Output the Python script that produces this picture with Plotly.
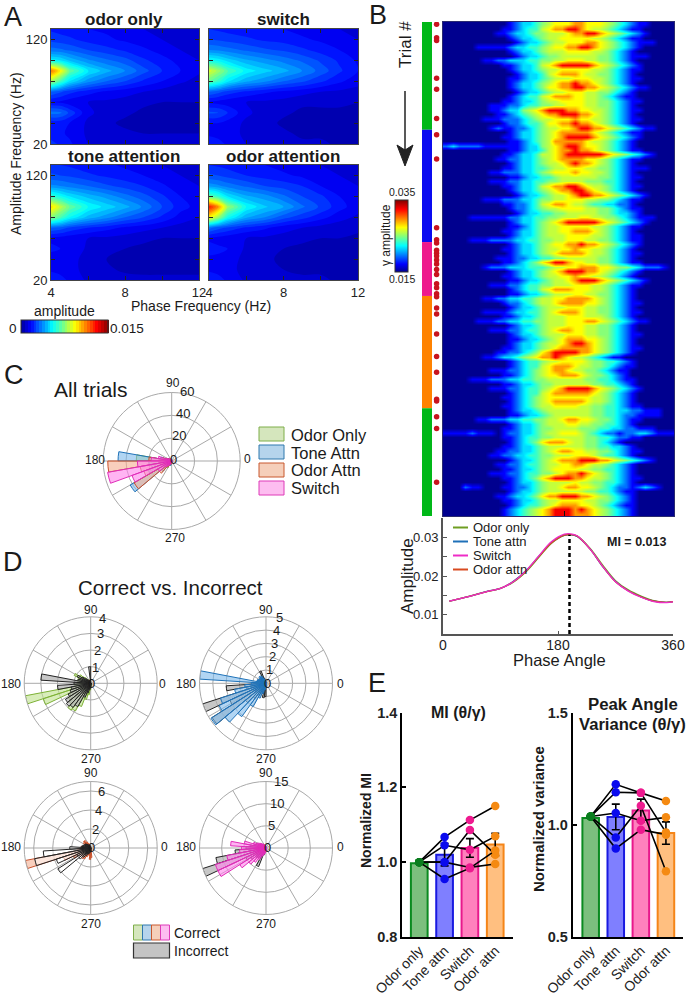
import plotly.graph_objects as go

W, H = 688, 1000
FONT = "Liberation Sans"

# ---- panel A, amplitude x 1000, rows are amp freq, columns are phase freq
phase_freq = [4, 4.5, 5, 6, 7, 8, 9, 10, 11, 12]
amp_freq = [130, 120, 110, 100, 90, 80, 70, 60, 50, 40, 30, 20]
odor_only_z = [
    [1.9, 1.8, 1.7, 1.5, 1.4, 1.2, 1.0, 0.9, 0.8, 0.7],
    [2.3, 2.2, 2.1, 1.8, 1.6, 1.4, 1.2, 1.0, 0.9, 0.8],
    [3.2, 3.1, 2.9, 2.5, 2.2, 1.9, 1.6, 1.3, 1.0, 0.9],
    [5.3, 5.0, 4.4, 3.6, 3.1, 2.7, 2.1, 1.7, 1.3, 1.0],
    [11.5, 9.5, 7.0, 5.1, 4.2, 3.5, 2.7, 2.0, 1.5, 1.1],
    [8.0, 6.5, 5.0, 3.7, 3.0, 2.5, 1.9, 1.5, 1.1, 0.8],
    [3.0, 2.6, 2.2, 1.7, 1.4, 1.2, 1.0, 0.8, 0.6, 0.6],
    [1.5, 1.4, 1.2, 1.0, 0.9, 0.8, 0.6, 0.5, 0.5, 0.5],
    [3.2, 3.1, 2.4, 1.1, 0.8, 0.6, 0.4, 0.4, 0.4, 0.4],
    [1.7, 1.7, 1.5, 0.9, 0.6, 0.4, 0.3, 0.3, 0.4, 0.5],
    [1.7, 1.6, 1.4, 0.9, 0.7, 0.6, 0.5, 0.5, 0.5, 0.5],
    [2.2, 1.9, 1.6, 1.0, 0.8, 0.7, 0.6, 0.6, 0.6, 0.6],
]
switch_z = [
    [2.0, 1.9, 1.8, 1.7, 1.6, 1.5, 1.3, 1.2, 1.0, 0.9],
    [2.5, 2.4, 2.3, 2.1, 1.9, 1.8, 1.6, 1.4, 1.2, 1.0],
    [3.5, 3.4, 3.2, 2.9, 2.6, 2.4, 2.1, 1.8, 1.5, 1.2],
    [5.6, 5.3, 4.8, 4.1, 3.7, 3.3, 2.9, 2.4, 1.9, 1.4],
    [8.8, 7.8, 6.6, 5.3, 4.7, 4.2, 3.5, 2.8, 2.1, 1.5],
    [7.0, 6.2, 5.1, 4.1, 3.6, 3.0, 2.6, 2.1, 1.6, 1.2],
    [3.0, 2.7, 2.3, 1.9, 1.6, 1.4, 1.2, 1.0, 0.9, 0.8],
    [1.4, 1.3, 1.2, 1.0, 0.9, 0.8, 0.6, 0.6, 0.6, 0.5],
    [2.6, 2.5, 2.0, 1.1, 0.8, 0.6, 0.4, 0.4, 0.4, 0.4],
    [1.5, 1.5, 1.3, 0.9, 0.7, 0.4, 0.4, 0.4, 0.4, 0.4],
    [1.4, 1.3, 1.2, 0.9, 0.7, 0.6, 0.4, 0.4, 0.4, 0.4],
    [1.8, 1.7, 1.4, 1.0, 0.8, 0.7, 0.6, 0.6, 0.4, 0.4],
]
tone_z = [
    [2.1, 2.0, 1.9, 1.7, 1.6, 1.4, 1.2, 1.0, 0.9, 0.8],
    [2.6, 2.5, 2.4, 2.1, 1.9, 1.7, 1.5, 1.2, 1.0, 0.9],
    [3.6, 3.5, 3.3, 3.0, 2.6, 2.3, 2.0, 1.6, 1.2, 1.0],
    [6.2, 5.6, 5.0, 4.3, 3.8, 3.2, 2.7, 2.1, 1.5, 1.2],
    [9.8, 8.4, 7.0, 5.5, 4.8, 4.2, 3.4, 2.5, 1.7, 1.3],
    [7.6, 6.6, 5.5, 4.3, 3.7, 3.0, 2.5, 1.9, 1.3, 1.0],
    [3.0, 2.8, 2.4, 2.0, 1.7, 1.4, 1.2, 1.0, 0.8, 0.7],
    [1.4, 1.3, 1.2, 1.0, 0.9, 0.8, 0.6, 0.5, 0.5, 0.5],
    [1.6, 1.5, 1.4, 0.9, 0.7, 0.5, 0.4, 0.3, 0.3, 0.3],
    [1.3, 1.3, 1.2, 0.8, 0.5, 0.3, 0.3, 0.2, 0.2, 0.3],
    [1.4, 1.3, 1.2, 0.8, 0.6, 0.4, 0.4, 0.4, 0.4, 0.4],
    [1.9, 1.7, 1.4, 0.9, 0.8, 0.7, 0.6, 0.6, 0.6, 0.6],
]
odor_attn_z = [
    [2.0, 1.9, 1.8, 1.7, 1.5, 1.3, 1.1, 1.0, 0.8, 0.7],
    [2.6, 2.5, 2.3, 2.0, 1.8, 1.6, 1.4, 1.1, 1.0, 0.8],
    [3.8, 3.6, 3.3, 2.9, 2.5, 2.3, 2.0, 1.5, 1.2, 1.0],
    [6.8, 6.1, 5.0, 4.1, 3.7, 3.1, 2.5, 2.1, 1.5, 1.1],
    [13.0, 11.0, 7.8, 5.5, 4.6, 4.0, 3.1, 2.4, 1.7, 1.2],
    [9.5, 7.8, 5.7, 4.1, 3.5, 2.7, 2.2, 1.7, 1.2, 0.9],
    [3.2, 2.7, 2.4, 1.9, 1.6, 1.2, 1.0, 0.8, 0.7, 0.6],
    [1.4, 1.3, 1.2, 1.0, 0.9, 0.8, 0.6, 0.5, 0.5, 0.4],
    [1.7, 1.6, 1.5, 0.9, 0.7, 0.5, 0.4, 0.3, 0.3, 0.2],
    [1.4, 1.4, 1.3, 0.8, 0.6, 0.4, 0.3, 0.3, 0.3, 0.3],
    [1.4, 1.3, 1.2, 0.8, 0.7, 0.5, 0.4, 0.4, 0.4, 0.4],
    [1.9, 1.7, 1.4, 0.9, 0.8, 0.7, 0.6, 0.6, 0.4, 0.4],
]

# ---- panel B, one string per trial, 36 phase bins, each digit looks up trial_levels
trial_levels = [0.015, 0.0172, 0.0194, 0.0216, 0.0234, 0.025, 0.0262, 0.0274, 0.0294, 0.0326]
trials_odor_only_1 = [
    "000000000012334567778877765432110000",
    "000000000112344678899876654321100000",
    "000000001123345566678899876543210000",
    "000000000012334566777776654321100000",
    "000000000001233456677788765432111000",
    "000001111123344567788998765432100000",
    "000000000012334566677776654321000000",
    "000000000001233455666666554321110000",
    "000000112233344556677766554321000000",
    "000000000112334678999998765432100000",
    "000000000012334566777776654321100000",
    "000000000001233467888766554321000000",
    "000000000011233456667776654321100000",
    "000000000012334567889887654321000000",
    "000000000012334577889988765432110000",
    "000000000001233456677766554321000000",
    "000000000012344678887766543211000000",
    "000000000112334566777766554321100000",
    "000000011122344556677766554321000000",
    "000000011233567899988776654321100000",
    "000000001123456788999887654321000000",
    "000000111222345667778776654321100000",
    "000000000122344577889887654321000000",
    "000000012112234566778998876543211000",
]
trials_tone = [
    "000000000012334567888887654321100000",
    "000000000112334567899998765432100000",
    "000000000011234568888876654321000000",
    "232222111111233567899877654321000000",
    "000000000011233467889887654321100000",
    "000000000112334667899999987654321000",
    "000000001122334567888877654321100000",
    "000000000012334566789887654321000000",
    "000000000112334456677766554321110000",
    "000000011222334567778776654321000000",
    "000000000011233445666666554321100000",
    "000000011122334455666655544321000000",
    "000000000112334678899876654321100000",
    "000000000012334567889987654321000000",
    "000000000001233456678998876543210000",
    "000000111222334556677766554321100000",
    "000000000112234678876654433221000000",
    "000000000012234566777766554321100000",
    "000000000001233445566666554332100000",
    "000011111122334455666776655432111000",
    "000000000012334567899999876543210000",
    "000000000011234566777776654321100000",
    "000000000112334566778887654321000000",
    "000000000012334566677776654321100000",
    "000011122223344556677766554321100000",
]
trials_switch = [
    "000000000012334567788988765432100000",
    "000000000112334566778776654321000000",
    "000000000012334567888876654321100000",
    "000000001112233445566666554321000000",
    "000000000112345789987766554321100000",
    "000000122233344456677888776554322210",
    "000000000012334567899988765432100000",
    "000000000112334566778776654321000000",
    "000000000011233456678999876543210000",
    "000000011122344556667776654321100000",
    "000000000012344678887776654321000000",
    "000000000011233456667766554321000000",
]
trials_odor_attn = [
    "000000112233445667788887654321000000",
    "000000000122345667888877654321100000",
    "000000000012334566677766554321000000",
    "000000111123344567888766554321100000",
    "000000000112334566677766654321000000",
    "000001112233445566677788765432110000",
    "000000000012334566677766554321000000",
    "000000011122344567887766554321000000",
    "000000000012334566677766554321100000",
    "000000000011233456788877654321000000",
    "000000000012334566789987654321000000",
    "000000000112334567888887654321100000",
    "000000001122345789999887654321000000",
    "000000112334567889876654321100000000",
    "000000000012344566777765544321000000",
    "000000000012344678887665543211000000",
    "000000011122345678876655432110000000",
    "000000000112345677888765543210000000",
    "000011122233445566666655443211000000",
    "000000000112334556666665544321000000",
    "000000011122344567899998765432100000",
    "000000000012344678888887654321000000",
    "000000000112345677777776654321000000",
    "000000000012345678888876654321000000",
    "000000000112345667777665544321100000",
]
trials_odor_only_2 = [
    "000000000012334566666665544332211100",
    "000000000011233456666665544322111100",
    "000001122233445566788776554321100000",
    "000000000012334566677665544321000000",
    "000000000112334556666555443322111000",
    "111121110122334566777654322122332111",
    "000000000112344556666655443221100000",
    "000000000012345788876655432100000000",
    "000000000112334566666655443321000000",
    "000000001122334567887766554321100000",
    "000000011223344556667776544321000000",
    "000000000012334567888999887654321000",
    "000000001122344566778876654321000000",
    "000000000112334567777665544321000000",
    "000000011122344556788987654321000000",
    "000000000112345789998876654321100000",
    "000000000012334566667665544321000000",
    "000211000112234566788776543221232100",
    "000000000012334566666655443211000000",
    "000000001123345788999887654321000000",
    "000000000112334566777766554321000000",
    "000000000012344567888776543211000000",
    "000000000123456789998987654321000000",
    "000000000123456789998887654321000000",
]
error_trials = [1, 4, 4.6, 13, 15.5, 22, 25.6, 31, 46.3, 49, 49.7, 51.3, 52, 52.6, 53.5, 54.4,
                55.6, 56.7, 58.8, 59.7, 61, 61.7, 64.2, 65.5, 70, 75, 78.5, 84.5, 84.9, 88.4,
                91, 103]
phase_bins = [5 + 10 * i for i in range(36)]

# mean curves under the heatmap
curve_phase = [10, 30, 50, 70, 90, 110, 130, 150, 170, 190, 200, 210, 230, 250, 270, 290, 310, 330, 350, 360]
curve_odor_only = [.0135, .0143, .0152, .0160, .0168, .0184, .0211, .0248, .0285, .0305, .0307, .0303, .0272, .0228, .0188, .0164, .0148, .0136, .0132, .0134]
curve_tone = [.0135, .0143, .0151, .0161, .0168, .0186, .0214, .0251, .0287, .0306, .0307, .0302, .0270, .0224, .0186, .0162, .0146, .0135, .0132, .0134]
curve_switch = [.0135, .0143, .0151, .0160, .0168, .0185, .0214, .0252, .0289, .0308, .0309, .0304, .0270, .0225, .0185, .0161, .0145, .0134, .0131, .0133]
curve_odor_attn = [.0135, .0143, .0151, .0160, .0168, .0185, .0213, .0250, .0286, .0306, .0307, .0303, .0270, .0225, .0185, .0162, .0146, .0135, .0132, .0134]
peak_angle = 198

# ---- panel C rose counts
rose_theta = [95, 105, 115, 125, 135, 145, 155, 165, 175, 185, 195, 205, 215, 225, 235, 245, 255, 265, 275, 285]
all_odor_only = [1, 1, 1, 2, 2, 3, 4, 8, 31, 18, 15, 14, 13, 10, 7, 3, 2, 2, 1, 1]
all_tone = [0, 1, 1, 2, 2, 3, 4, 10, 47, 20, 18, 22, 42, 12, 6, 3, 4, 2, 1, 1]
all_odor_attn = [1, 1, 1, 2, 2, 3, 5, 8, 20, 56, 28, 26, 38, 14, 6, 3, 3, 2, 1, 0]
all_switch = [1, 1, 2, 2, 3, 3, 5, 12, 18, 30, 57, 37, 14, 7, 5, 3, 2, 1, 1, 1]

# ---- panel D rose counts, 7.2 degree bins
d_theta = [93.6, 100.8, 108, 115.2, 122.4, 129.6, 136.8, 144, 151.2, 158.4, 165.6, 172.8, 180, 187.2,
           194.4, 201.6, 208.8, 216, 223.2, 230.4, 237.6, 244.8, 252, 259.2, 266.4, 273.6, 280.8]
odor_only_correct = [0, 0, .1, .1, .2, .3, .5, .8, 1.1, .8, .7, .8, .8, 1.0, 4.0, 3.0, 1.4, 1.6, 1.7, 2.0, 1.9, 1.5, 1.0, .7, .4, .2, .1]
odor_only_incorrect = [1.0, .2, .1, .1, .2, .3, .4, .6, .9, .7, .8, 3.0, 1.0, 2.0, 1.2, 1.3, 1.5, 1.8, 1.9, 1.8, 1.6, .9, .6, .4, .3, .2, .1]
tone_correct = [.1, .2, .3, .4, .6, .7, .7, .6, .6, .7, .7, 5, 1.1, 1.6, 2.4, 3.6, 3.9, 4.9, 4.0, 3.1, 2.0, 1.2, .8, .5, .3, .2, .1]
tone_incorrect = [.1, .2, .4, 1, .6, .5, .5, .5, .5, .6, .6, .7, .9, 3.0, 1.5, 5, 3, 4.8, 2, 1.4, 1.0, .8, .8, 1.1, 1.0, .3, .1]
odor_attn_correct = [.1, .2, .3, .5, .7, 1, 1.0, .9, .7, .7, .8, 1.0, 1.1, 1.4, 7, 3, 2, 1.3, 1.2, 1.4, 1.3, 1.0, .7, .8, 1.2, 1, .3]
odor_attn_incorrect = [.1, .2, .3, .3, .4, .5, .6, .7, .7, .8, .9, 1.0, 2.2, 5, 6, 3.8, 1.6, 4.1, 1.6, 1.2, .9, .7, .6, .5, .4, .3, .1]
switch_correct = [.3, .4, .6, .8, 1, 1.2, 1.5, 1.8, 2.2, 3, 5, 8, 5.5, 6, 9, 12, 12, 7, 5, 4, 3, 2, 1.5, 1.2, .8, .5, .3]
switch_incorrect = [.2, .3, .5, .6, .8, 1, 1.2, 1.4, 1.6, 2, 2.8, 3.6, 4.5, 7, 11.5, 15, 5, 4, 3, 2.8, 2.2, 4.5, 1.6, 1, .8, .5, .2]

# ---- panel E
conditions = ["Odor only", "Tone attn", "Switch", "Odor attn"]
mi_means = [0.997, 1.02, 1.038, 1.047]
mi_errors = [0, 0.03, 0.025, 0.03]
mi_animals = [
    [1.0, 1.067, 1.1125, 1.15],
    [1.0, 1.0, 1.086, 1.02],
    [1.0, 1.045, 1.033, 1.069],
    [1.0, 1.0, 0.986, 0.995],
    [1.0, 0.955, 0.984, 1.031],
]
var_means = [1.03, 1.035, 1.064, 0.963]
var_errors = [0, 0.057, 0.05, 0.05]
var_animals = [
    [1.037, 1.18, 1.142, 0.966],
    [1.037, 1.145, 1.142, 1.106],
    [1.037, 1.052, 1.018, 1.033],
    [1.037, 0.943, 1.085, 0.793],
    [1.037, 0.894, 0.978, 0.956],
]

JET = [[0, "rgb(0,0,143)"], [0.11, "rgb(0,0,255)"], [0.365, "rgb(0,255,255)"],
       [0.62, "rgb(255,255,0)"], [0.87, "rgb(255,0,0)"], [1, "rgb(128,0,0)"]]
GREEN, BLUE, PINK, ORANGE = "#0a8a20", "#1a1ae0", "#e8188c", "#f58518"
GRID = "#a9a9a9"


def px(x):
    return x / W


def py(y):
    return 1 - y / H


annotations = []
shapes = []


def note(text, x, y, size=13, bold=False, angle=0, anchor="center", color="#1a1a1a"):
    annotations.append(dict(text=f"<b>{text}</b>" if bold else text, x=px(x), y=py(y), xref="paper", yref="paper",
                            showarrow=False, xanchor=anchor, yanchor="middle", textangle=angle,
                            font=dict(size=size, color=color, family=FONT)))


def rect(x0, y0, x1, y1, fill, edge, width=1):
    shapes.append(dict(type="rect", xref="paper", yref="paper", x0=px(x0), x1=px(x1), y0=py(y0), y1=py(y1),
                       fillcolor=fill, line=dict(color=edge, width=width)))


def hline(x0, x1, y, color, width=2):
    shapes.append(dict(type="line", xref="paper", yref="paper", x0=px(x0), x1=px(x1), y0=py(y), y1=py(y),
                       line=dict(color=color, width=width)))


fig = go.Figure()
layout = {}

# ---- A
a_panels = [
    (odor_only_z, 51, 199, 29, 144, "", True, False),
    (switch_z, 209, 358, 29, 144, "2", False, False),
    (tone_z, 51, 199, 165, 280, "3", True, True),
    (odor_attn_z, 209, 358, 165, 280, "4", False, True),
]
for z, x0, x1, y0, y1, n, show_y, show_x in a_panels:
    fig.add_trace(go.Contour(x=phase_freq, y=amp_freq, z=z, coloraxis="coloraxis",
                             contours=dict(start=0, end=15, size=0.5), line=dict(width=0),
                             xaxis="x" + n, yaxis="y" + n, hoverinfo="skip"))
    layout["xaxis" + n] = dict(domain=[px(x0), px(x1)], range=[4, 12], anchor="y" + n, mirror="ticks",
                               showline=True, linecolor="#444", linewidth=1, ticks="inside", ticklen=4,
                               tickcolor="#222", tickvals=[4, 6, 8, 10, 12], showgrid=False, zeroline=False,
                               ticktext=["4", "", "8", "", "12"], showticklabels=show_x,
                               tickfont=dict(size=13, color="#222"))
    layout["yaxis" + n] = dict(domain=[py(y1), py(y0)], range=[20, 130], anchor="x" + n, mirror="ticks",
                               showline=True, linecolor="#444", linewidth=1, ticks="inside", ticklen=4,
                               tickcolor="#222", tickvals=[20, 40, 60, 80, 100, 120], showgrid=False, zeroline=False,
                               ticktext=["20", "", "", "", "", "120"], showticklabels=show_y,
                               tickfont=dict(size=13, color="#222"))

note("A", 13, 17, 27)
note("odor only", 124, 19, 17, True)
note("switch", 283, 19, 17, True)
note("tone attention", 124, 156, 17, True)
note("odor attention", 283, 156, 17, True)
note("Amplitude Frequency (Hz)", 16, 154, 14, angle=-90)
note("Phase Frequency (Hz)", 201, 306, 14)
note("amplitude", 64, 311, 14)
note("0", 13, 329, 13.5)
note("0.015", 127, 329, 13.5)

# ---- B
trial_blocks = [trials_odor_only_1, trials_tone, trials_switch, trials_odor_attn, trials_odor_only_2]
block_colors = ["#00b818", "#0a0af0", "#ee1a8c", "#ff8200", "#00b818"]
all_trials = [t for block in trial_blocks for t in block]
heat = [[trial_levels[int(c)] for c in t.ljust(36, "0")[:36]] for t in all_trials]
n_trials = len(heat)
fig.add_trace(go.Heatmap(x=phase_bins, y=list(range(1, n_trials + 1)), z=heat, coloraxis="coloraxis2",
                         zsmooth="best", xaxis="x5", yaxis="y5", hoverinfo="skip"))
layout["xaxis5"] = dict(domain=[px(443), px(674)], range=[0, 360], anchor="y5", mirror=True, showline=True,
                        linecolor="#2a2a70", linewidth=1, ticks="inside", ticklen=5, tickcolor="#111",
                        tickvals=[190], showticklabels=False, showgrid=False, zeroline=False)
layout["yaxis5"] = dict(domain=[py(516), py(22)], range=[n_trials + 0.5, 0.5], anchor="x5", mirror=True, showline=True,
                        linecolor="#2a2a70", linewidth=1, showticklabels=False, ticks="", showgrid=False, zeroline=False)

# trial block strip and red dots for the error trials
start = 0.5
for block, col in zip(trial_blocks, block_colors):
    fig.add_trace(go.Bar(x=[0.25], y=[len(block)], base=[start], width=[0.5], marker=dict(color=col, line_width=0),
                         xaxis="x6", yaxis="y6", hoverinfo="skip"))
    start += len(block)
fig.add_trace(go.Scatter(x=[0.73] * len(error_trials), y=error_trials, mode="markers",
                         marker=dict(color="#c8141e", size=5.5), xaxis="x6", yaxis="y6", hoverinfo="skip"))
layout["xaxis6"] = dict(domain=[px(422), px(442)], range=[0, 1], anchor="y6", visible=False)
layout["yaxis6"] = dict(domain=[py(516), py(22)], range=[n_trials + 0.5, 0.5], anchor="x6", visible=False)

note("B", 378, 15, 27)
note("Trial #", 405, 45, 17, angle=-90)
shapes.append(dict(type="line", xref="paper", yref="paper", x0=px(405), x1=px(405), y0=py(91), y1=py(150),
                   line=dict(color="#222", width=1.5)))
head = [(405, 166), (397, 145), (405, 150), (413, 145)]
shapes.append(dict(type="path", xref="paper", yref="paper", fillcolor="#222", line=dict(color="#222", width=1),
                   path="M " + " L ".join(f"{px(a):.4f},{py(b):.4f}" for a, b in head) + " Z"))
note("0.035", 402, 192, 10.5)
note("0.015", 402, 279, 10.5)
note("γ amplitude", 386, 235, 12, angle=-90)

# mean curves
curves = [("Odor only", curve_odor_only, "#6f9e22"), ("Tone attn", curve_tone, "#1f70b8"),
          ("Switch", curve_switch, "#ee2cc6"), ("Odor attn", curve_odor_attn, "#d84a20")]
for name, vals, col in [curves[0], curves[1], curves[3], curves[2]]:
    fig.add_trace(go.Scatter(x=curve_phase, y=vals, mode="lines", line=dict(color=col, width=1.3, shape="spline"),
                             xaxis="x7", yaxis="y7", name=name))
fig.add_trace(go.Scatter(x=[peak_angle, peak_angle], y=[0.005, 0.0307], mode="lines", xaxis="x7", yaxis="y7",
                         line=dict(color="black", width=2.5, dash="4px,3px")))
layout["xaxis7"] = dict(domain=[px(443), px(673)], range=[0, 360], anchor="y7", showline=True, linecolor="#555",
                        linewidth=2, ticks="inside", ticklen=3, tickcolor="#555", tickvals=[0, 180, 360],
                        ticklabelstandoff=-3, tickfont=dict(size=14, color="#222"), showgrid=False, zeroline=False)
layout["yaxis7"] = dict(domain=[py(634), py(518)], range=[0.005, 0.035], anchor="x7", showline=True, linecolor="#555",
                        linewidth=2, ticks="inside", ticklen=4, tickcolor="#555",
                        tickvals=[0.01, 0.015, 0.02, 0.025, 0.03], ticktext=["0.01", "", "0.02", "", "0.03"],
                        tickfont=dict(size=13, color="#222"), showgrid=False, zeroline=False)
for i, (name, vals, col) in enumerate(curves):
    y = 527.5 + 14 * i
    hline(453, 468, y, col, 2)
    note(name, 471, y, 13, anchor="left")
note("MI = 0.013", 636, 542, 12.5, True)
note("Amplitude", 407, 576, 17, angle=-90)
note("Phase Angle", 559, 660, 16.5)

# ---- C and D roses


def rose(name, cx, cy, rad, rmax, rticks, traces):
    for theta, vals, fill, edge, lw in traces:
        fig.add_trace(go.Barpolar(theta=theta, r=vals, width=rose_widths[id(theta)], subplot=name,
                                  marker=dict(color=fill, line=dict(color=edge, width=lw)), hoverinfo="skip"))
    layout[name] = dict(
        domain=dict(x=[px(cx - rad), px(cx + rad)], y=[py(cy + rad), py(cy - rad)]),
        bgcolor="rgba(0,0,0,0)", barmode="overlay",
        angularaxis=dict(tickmode="array", tickvals=list(range(0, 360, 30)), showticklabels=False,
                         gridcolor=GRID, linecolor=GRID, ticks=""),
        radialaxis=dict(range=[0, rmax], tickvals=rticks, angle=79, showticklabels=False, showline=False,
                        ticks="", gridcolor=GRID),
    )


rose_widths = {id(rose_theta): [10] * len(rose_theta), id(d_theta): [7.2] * len(d_theta)}
G_FILL, G_EDGE = "rgba(190,225,140,0.6)", "#7cb034"
B_FILL, B_EDGE = "rgba(125,185,235,0.6)", "#1f72b8"
O_FILL, O_EDGE = "rgba(245,175,145,0.6)", "#c8502a"
P_FILL, P_EDGE = "rgba(255,130,235,0.6)", "#e02cb8"
INC_FILL, INC_EDGE = "rgba(175,175,175,0.7)", "#222"

rose("polar", 171.7, 461, 68.5, 60, [0, 20, 40, 60], [
    (rose_theta, all_odor_only, G_FILL, G_EDGE, 1),
    (rose_theta, all_tone, B_FILL, B_EDGE, 1),
    (rose_theta, all_odor_attn, O_FILL, O_EDGE, 1),
    (rose_theta, all_switch, P_FILL, P_EDGE, 1),
])
rose("polar2", 90.7, 683.3, 66.5, 4, [0, 1, 2, 3, 4], [
    (d_theta, odor_only_correct, G_FILL, G_EDGE, 1),
    (d_theta, odor_only_incorrect, INC_FILL, INC_EDGE, 1),
])
rose("polar3", 266, 683.3, 66.5, 5, [0, 1, 2, 3, 4, 5], [
    (d_theta, tone_incorrect, INC_FILL, INC_EDGE, 1),
    (d_theta, tone_correct, B_FILL, B_EDGE, 1),
])
rose("polar4", 90.7, 848, 66.5, 7, [0, 2, 4, 6], [
    (d_theta, odor_attn_correct, O_FILL, O_EDGE, 1),
    (d_theta, odor_attn_incorrect, "rgba(255,255,255,0.5)", INC_EDGE, 1),
])
rose("polar5", 266, 848, 66.5, 15, [0, 5, 10, 15], [
    (d_theta, switch_incorrect, INC_FILL, INC_EDGE, 1),
    (d_theta, switch_correct, P_FILL, P_EDGE, 1),
])

# angle and count labels, placed by hand like the original
angle_labels = [
    ("180", 95, 460), ("0", 247, 459), ("90", 173, 383), ("270", 175, 538),
    ("180", 11, 684), ("0", 162.5, 684), ("90", 90.7, 610), ("270", 90.7, 758.5),
    ("180", 186, 684), ("0", 340, 684), ("90", 266, 610), ("270", 266, 758.5),
    ("180", 11, 847), ("0", 164, 847), ("90", 90.7, 773), ("270", 90.7, 924),
    ("180", 186, 847), ("0", 340, 847), ("90", 266, 773), ("270", 266, 924),
]
for text, x, y in angle_labels:
    note(text, x, y, 12)
count_labels = [
    ("60", 187, 391), ("40", 183, 414), ("20", 179, 436), ("0", 173, 459),
    ("4", 103, 618), ("3", 100, 633), ("2", 97, 650), ("1", 95, 667), ("0", 92, 683),
    ("5", 279, 617), ("4", 276, 630), ("3", 274, 643), ("2", 272, 656), ("1", 269, 669), ("0", 267, 683),
    ("6", 101, 791), ("4", 98, 810), ("2", 95, 829), ("0", 92, 847),
    ("15", 281, 781), ("10", 277, 803), ("5", 271, 825), ("0", 267, 847),
]
for text, x, y in count_labels:
    note(text, x, y, 13)

note("C", 14, 375, 27)
note("All trials", 91, 389, 21)
c_legend = [("Odor Only", "#d5e6bd", "#7fae4a"), ("Tone Attn", "#b5d4ec", "#2f78ad"),
            ("Odor Attn", "#f5cfba", "#c8592f"), ("Switch", "#fdbdf0", "#de3bb8")]
for i, (name, fill, edge) in enumerate(c_legend):
    y = 427 + 18 * i
    rect(259, y, 284, y + 14, fill, edge)
    note(name, 289, y + 7.5, 16.5, anchor="left")

note("D", 13, 562, 27)
note("Correct vs. Incorrect", 170, 587, 20.5)
for i, (name, fill, edge) in enumerate(c_legend):
    rect(133.5 + 9 * i, 925, 142.5 + 9 * i, 940, fill, edge)
rect(133.5, 943, 169.5, 958, "#c4c4c4", "#333", 1.2)
note("Correct", 172, 933, 14, anchor="left")
note("Incorrect", 172, 951, 14, anchor="left")

# ---- E
bar_fills = ["#7cbf7e", "#7f7fff", "#ff80bd", "#ffbf80"]
bar_edges = [GREEN, BLUE, PINK, ORANGE]
dot_colors = ["#0a7d1e", "#0a0aee", "#ee1a8f", "#f58a12"]
e_panels = [
    (mi_means, mi_errors, mi_animals, "8", 402.3, 512.7, [-0.67, 3.69], [0.8, 1.4], [0.8, 1.0, 1.2, 1.4], ["0.8", "1.0", "1.2", "1.4"]),
    (var_means, var_errors, var_animals, "9", 572.7, 683, [-0.717, 3.68], [0.5, 1.5], [0.5, 1.0, 1.5], ["0.5", "1.0", "1.5"]),
]
for means, errs, animals, n, x0, x1, xr, yr, yt, ytt in e_panels:
    xs = list(range(len(conditions)))
    fig.add_trace(go.Bar(x=xs, y=means, width=0.66, xaxis="x" + n, yaxis="y" + n, hoverinfo="skip",
                         marker=dict(color=bar_fills, line=dict(color=bar_edges, width=2)),
                         error_y=dict(type="data", array=errs, color="black", thickness=1.6, width=4)))
    for vals in animals:
        fig.add_trace(go.Scatter(x=xs, y=vals, mode="lines+markers", xaxis="x" + n, yaxis="y" + n, hoverinfo="skip",
                                 line=dict(color="black", width=1.6), marker=dict(color=dot_colors, size=8.5)))
    layout["xaxis" + n] = dict(domain=[px(x0), px(x1)], range=xr, anchor="y" + n, showline=True, linecolor="black",
                               linewidth=2, ticks="", tickvals=xs, ticktext=conditions, tickangle=-45,
                               ticklabelstandoff=-2, tickfont=dict(size=14, color="#222"), showgrid=False, zeroline=False)
    layout["yaxis" + n] = dict(domain=[py(937), py(712.5)], range=yr, anchor="x" + n, showline=True, linecolor="black",
                               linewidth=2, ticks="inside", ticklen=4, tickwidth=2, tickcolor="black", tickvals=yt,
                               ticktext=ytt, tickfont=dict(size=14.5, color="#222", weight=700), showgrid=False,
                               zeroline=False)
note("E", 377, 683, 27)
note("MI (θ/γ)", 458, 712, 16, True)
note("Peak Angle", 632.7, 704, 16.8, True)
note("Variance (θ/γ)", 632.7, 724, 16.6, True)
note("Normalized MI", 366, 820, 14, True, angle=-90)
note("Normalized variance", 538, 819, 15, True, angle=-90)

cbar_common = dict(thickness=13, lenmode="pixels", showticklabels=False, ticks="", outlinecolor="#333",
                   outlinewidth=1, xpad=0, ypad=0)
fig.update_layout(
    width=W, height=H, margin=dict(l=0, r=0, t=0, b=0, autoexpand=False), showlegend=False, paper_bgcolor="white",
    plot_bgcolor="white", barmode="overlay", font=dict(family=FONT, color="#222"),
    coloraxis=dict(colorscale=JET, cmin=0, cmax=15,
                   colorbar=dict(orientation="h", len=87, x=px(21), xanchor="left", y=py(334), yanchor="bottom", **cbar_common)),
    coloraxis2=dict(colorscale=JET, cmin=0.015, cmax=0.035,
                    colorbar=dict(len=72, x=px(395), xanchor="left", y=py(272), yanchor="bottom", **cbar_common)),
    annotations=annotations, shapes=shapes, **layout,
)

fig.write_html("out.html", config=dict(displayModeBar=False), post_script="document.body.style.margin='0';")
